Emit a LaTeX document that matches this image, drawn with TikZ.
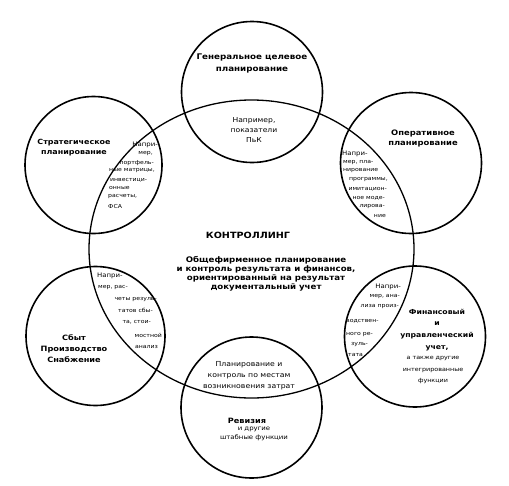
\documentclass[tikz,border=0pt]{standalone}
\usepackage{fontspec}
\setmainfont{DejaVu Sans}[FakeStretch=1.12]
\usetikzlibrary{shapes.geometric}
\begin{document}
\begin{tikzpicture}[x=1pt,y=-1pt,
  ring/.style={circle, draw, line width=1.6pt, minimum size=141pt, inner sep=0},
  ttl/.style={font=\bfseries\fontsize{7.6}{11}\selectfont, align=center, inner sep=0},
  txt/.style={font=\fontsize{6.8}{10}\selectfont, align=center, inner sep=0},
  lns/.style={font=\fontsize{5.5}{6}\selectfont, anchor=west, inner sep=0},
  lne/.style={lns, anchor=east},
  lnf/.style={font=\fontsize{6.2}{7}\selectfont, anchor=west, inner sep=0},
  lnfe/.style={lnf, anchor=east}]
\useasboundingbox (0,0) rectangle (509,485);
% circles
\node[ellipse, draw, line width=1.3pt, minimum width=325pt, minimum height=298pt, inner sep=0] (ctr) at (251.5,249) {};
\node[ring] (top) at (252,92) {};
\node[ring, minimum size=137pt] (str) at (93.5,165) {};
\node[ring] (opr) at (411,163) {};
\node[ring, minimum size=139pt] (sbt) at (95.5,336) {};
\node[ring] (fin) at (415,336.5) {};
\node[ring] (rev) at (251.5,407.5) {};
% top circle
\node[ttl, font=\bfseries\fontsize{7.8}{12}\selectfont] (gt) at (252,63) {Генеральное целевое\\планирование};
\node[txt] (gn) at (254,130) {Например,\\показатели\\ПьК};
% strategic
\node[ttl, font=\bfseries\fontsize{7.1}{10}\selectfont] (stt) at (74,148) {Стратегическое\\планирование};
\node[lnfe] (s1) at (158,145) {Напри-};
\node[lne] (s2) at (153,154) {мер,};
\node[lne] (s3) at (154,163) {портфель-};
\node[lne] (s4) at (155,171) {ные матрицы,};
\node[lns] (s5) at (110,180) {инвестици-};
\node[lns] (s6) at (109,188) {онные};
\node[lns] (s7) at (108,197) {расчеты,};
\node[lns] (s8) at (108,206) {ФСА};
% operative
\node[ttl, font=\bfseries\fontsize{7.5}{10}\selectfont] (opt) at (423,138) {Оперативное\\планирование};
\node[lnf] (o1) at (342,154) {Напри-};
\node[lns] (o2) at (343,163) {мер, пла-};
\node[lns] (o3) at (343,171) {нирование};
\node[lne] (o4) at (388,180) {программы,};
\node[lne] (o5) at (387,189) {имитацион-};
\node[lne] (o6) at (385,198) {ное моде-};
\node[lne] (o7) at (385,207) {лирова-};
\node[lne] (o8) at (386,216) {ние};
% central
\node[ttl, font=\bfseries\fontsize{8.6}{10}\selectfont] (kt) at (248,235) {КОНТРОЛЛИНГ};
\node[ttl, font=\bfseries\fontsize{7.7}{9}\selectfont] (kd) at (266,273.5) {Общефирменное планирование\\и контроль результата и финансов,\\ориентированный на результат\\документальный учет};
% sbyt
\node[ttl, font=\bfseries\fontsize{7.3}{11}\selectfont] (sbt1) at (74,349) {Сбыт\\Производство\\Снабжение};
\node[lnf] (b1) at (97,276) {Напри-};
\node[lns] (b2) at (98,288) {мер, рас-};
\node[lne] (b3) at (157,300) {четы резуль-};
\node[lne] (b4) at (153,310) {татов сбы-};
\node[lne] (b5) at (151,322) {та, стои-};
\node[lne] (b6) at (162,335) {мостной};
\node[lne] (b7) at (158,347) {анализ};
% financial
\node[ttl, font=\bfseries\fontsize{6.9}{11.8}\selectfont] (ft) at (437,330) {Финансовый\\и\\управленческий\\учет,};
\node[txt, font=\fontsize{5.7}{11.5}\selectfont] (fs) at (433,370) {а также другие\\интегрированные\\функции};
\node[lnfe] (f1) at (401,287) {Напри-};
\node[lne] (f2) at (400,297) {мер, ана-};
\node[lne] (f3) at (399,307) {лиза произ-};
\node[lns] (f4) at (346,321) {водствен-};
\node[lns] (f5) at (346,335) {ного ре-};
\node[lns] (f6) at (351,345) {зуль-};
\node[lns] (f7) at (348,355) {тата};
% bottom
\node[txt, font=\fontsize{6.9}{11}\selectfont] (rp) at (249,376) {Планирование и\\контроль по местам\\возникновения затрат};
\node[ttl, font=\bfseries\fontsize{7.3}{9}\selectfont] (rv) at (247,421) {Ревизия};
\node[txt, font=\fontsize{6.2}{8.5}\selectfont] (rd) at (254,434) {и другие\\штабные функции};
\end{tikzpicture}
\end{document}
